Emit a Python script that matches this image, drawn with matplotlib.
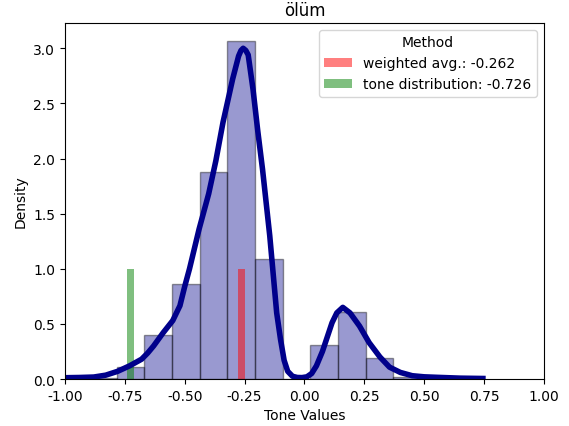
import numpy as np
import matplotlib
matplotlib.use('Agg')
import matplotlib.pyplot as plt

# histogram (density)
bin_edges = [-0.900, -0.784, -0.669, -0.553, -0.438, -0.322, -0.207,
             -0.091, 0.024, 0.140, 0.255, 0.371, 0.486]
densities = [0.01, 0.11, 0.40, 0.86, 1.88, 3.07, 1.085, 0.0, 0.31, 0.61, 0.19, 0.02]

# kde curve
kde_x = [-1.0, -0.94, -0.88, -0.83, -0.78, -0.73, -0.68, -0.655, -0.63, -0.59,
         -0.55, -0.52, -0.50, -0.48, -0.44, -0.40, -0.37, -0.34, -0.30, -0.275,
         -0.265, -0.256, -0.245, -0.235, -0.215, -0.195, -0.175, -0.145, -0.116,
         -0.10, -0.085, -0.07, -0.05, -0.03, -0.01, 0.01, 0.03, 0.05, 0.075,
         0.095, 0.115, 0.135, 0.16, 0.19, 0.23, 0.27,
         0.315, 0.355, 0.40, 0.45, 0.50, 0.56, 0.65, 0.745]
kde_y = [0.012, 0.014, 0.018, 0.035, 0.07, 0.12, 0.18, 0.235, 0.30, 0.42,
         0.53, 0.665, 0.84, 1.0, 1.36, 1.68, 1.98, 2.33, 2.72, 2.93,
         2.98, 3.0, 2.98, 2.94, 2.63, 2.25, 1.9, 1.3, 0.6,
         0.36, 0.17, 0.07, 0.025, 0.014, 0.013, 0.02, 0.05, 0.12, 0.25,
         0.38, 0.51, 0.60, 0.65, 0.60, 0.48, 0.33,
         0.2, 0.108, 0.06, 0.03, 0.02, 0.015, 0.008, 0.005]

methods = ['weighted avg.', 'tone distribution']
method_values = [-0.262, -0.726]
method_colors = ['red', 'green']

fig = plt.figure(figsize=(5.69, 4.27), dpi=100)
ax = fig.add_axes([0.1142, 0.110, 0.8418, 0.834])

widths = np.diff(bin_edges)
ax.bar(bin_edges[:-1], densities, width=widths, align='edge',
       color='darkblue', alpha=0.4, edgecolor='black', linewidth=1)
ax.plot(kde_x, kde_y, color='darkblue', linewidth=4, solid_joinstyle='round')

for name, val, col in zip(methods, method_values, method_colors):
    ax.bar(val, 1, width=0.03, color=col, alpha=0.5,
           label=f'{name}: {val}')

ax.set_xlim(-1, 1)
ax.set_ylim(0, 3.23)
ax.set_xticks(np.arange(-1, 1.01, 0.25))
ax.set_xticklabels([f'{t:.2f}' for t in np.arange(-1, 1.01, 0.25)])
ax.set_xlabel('Tone Values')
ax.set_ylabel('Density')
ax.set_title('ölüm')
ax.legend(title='Method', loc='upper right')

fig.savefig('out.png', dpi=100)
